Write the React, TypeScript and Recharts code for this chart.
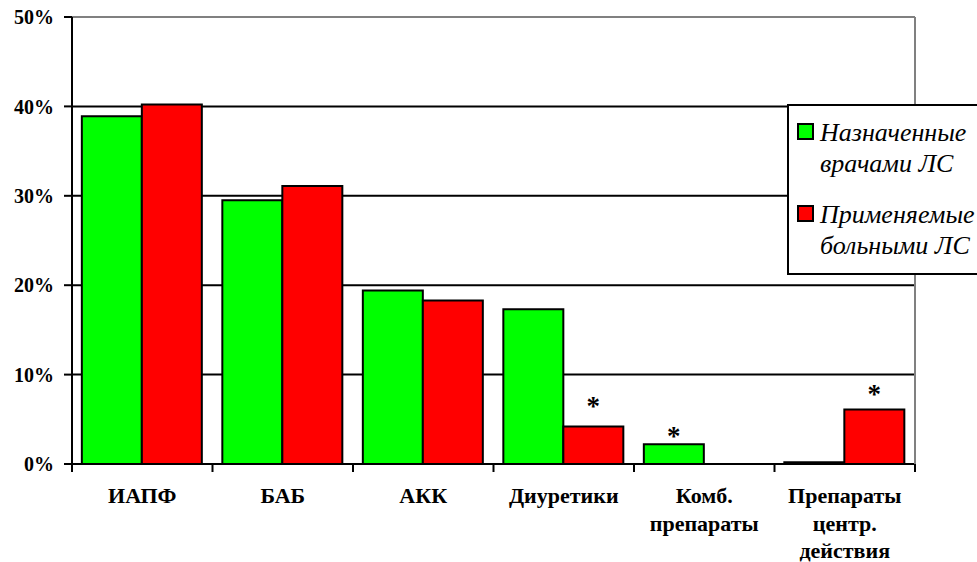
import {
  BarChart,
  Bar,
  XAxis,
  YAxis,
  CartesianGrid,
  ReferenceLine,
  Legend,
  LabelList,
} from "recharts";

const categories = [
  "ИАПФ",
  "БАБ",
  "АКК",
  "Диуретики",
  "Комб.\nпрепараты",
  "Препараты\nцентр.\nдействия",
];
const prescribed = [38.9, 29.5, 19.4, 17.3, 2.2, 0.2];
const used = [40.2, 31.1, 18.3, 4.2, 0, 6.1];
const prescribedMarks = ["", "", "", "", "*", ""];
const usedMarks = ["", "", "", "*", "", "*"];
const yTicks = [0, 10, 20, 30, 40, 50];
const seriesNames = ["Назначенные\nврачами ЛС", "Применяемые\nбольными ЛС"];

const colors = ["#00ff00", "#ff0000"];
const SERIF = '"Liberation Serif", "DejaVu Serif", serif';

const data = categories.map((name, i) => ({
  name,
  prescribed: prescribed[i],
  used: used[i],
  pMark: prescribedMarks[i],
  uMark: usedMarks[i],
}));

// star look per series/index
const starTweaks: Record<string, { lift: number; size: number }> = {
  "used-3": { lift: 11, size: 27 },
  "prescribed-4": { lift: -1, size: 27 },
  "used-5": { lift: 1, size: 36 },
};

const makeStar = (series: string) => (props: any) => {
  const { x, y, width, value, index } = props;
  if (!value) return null;
  const t = starTweaks[`${series}-${index}`] || { lift: 6, size: 27 };
  return (
    <text
      x={Number(x) + Number(width) / 2}
      y={Number(y) - t.lift}
      textAnchor="middle"
      fontFamily={SERIF}
      fontWeight="bold"
      fontSize={t.size}
      fill="#000"
    >
      {value}
    </text>
  );
};

// category label + tick marks on the category boundaries
const CategoryTick = (props: any) => {
  const { x, y, payload, index, visibleTicksCount, width } = props;
  const lines = String(payload.value).split("\n");
  const band = Number(width) / Number(visibleTicksCount);
  const edges = [x - band / 2];
  if (index === visibleTicksCount - 1) edges.push(x + band / 2);
  return (
    <g>
      {edges.map((ex, i) => (
        <line key={i} x1={ex} x2={ex} y1={y} y2={y + 8} stroke="#000" strokeWidth={2} />
      ))}
      <text
        x={x}
        y={y}
        textAnchor="middle"
        fontFamily={SERIF}
        fontWeight="bold"
        fontSize={22}
        fill="#000"
      >
        {lines.map((l, i) => (
          <tspan key={i} x={x} dy={i === 0 ? 39 : 27.5}>
            {l}
          </tspan>
        ))}
      </text>
    </g>
  );
};

const LegendBox = () => (
  <div
    style={{
      boxSizing: "border-box",
      width: 220,
      height: 171,
      border: "2px solid #000",
      background: "#fff",
      position: "relative",
      fontFamily: SERIF,
      fontStyle: "italic",
      fontSize: 26,
      lineHeight: "31px",
      color: "#000",
    }}
  >
    {seriesNames.map((name, i) => (
      <div key={name} style={{ position: "absolute", left: 8, top: 11 + i * 82 }}>
        <span
          style={{
            position: "absolute",
            left: 0,
            top: 6,
            width: 13,
            height: 13,
            border: "2px solid #000",
            background: colors[i],
          }}
        />
        <div style={{ marginLeft: 23, whiteSpace: "pre" }}>{name}</div>
      </div>
    ))}
  </div>
);

export default function App() {
  return (
    <div
      style={{
        position: "absolute",
        left: 0,
        top: 0,
        width: 977,
        height: 562,
        overflow: "hidden",
        background: "#fff",
      }}
    >
      <BarChart
        width={977}
        height={562}
        data={data}
        margin={{ top: 17, right: 61, bottom: 97, left: 0 }}
        barCategoryGap="7%"
        barGap={0}
      >
        <CartesianGrid
          xAxisId="cats"
          vertical={false}
          stroke="#000"
          strokeWidth={2}
        />
        <ReferenceLine xAxisId="cats" y={50} stroke="#808080" strokeWidth={2} />
        <XAxis
          xAxisId="cats"
          dataKey="name"
          height={1}
          interval={0}
          tickLine={false}
          tickSize={0}
          tickMargin={0}
          tick={<CategoryTick />}
          axisLine={{ stroke: "#000", strokeWidth: 2 }}
        />
        <YAxis
          width={72}
          domain={[0, 50]}
          ticks={yTicks}
          interval={0}
          tickFormatter={(v) => `${v}%`}
          tickSize={8}
          tickMargin={10}
          axisLine={{ stroke: "#000", strokeWidth: 2 }}
          tickLine={{ stroke: "#000", strokeWidth: 2 }}
          tick={{ fontFamily: SERIF, fontWeight: "bold", fontSize: 20, fill: "#000" }}
        />
        <YAxis
          yAxisId="r"
          orientation="right"
          width={1}
          domain={[0, 50]}
          tick={false}
          tickLine={false}
          axisLine={{ stroke: "#808080", strokeWidth: 2 }}
        />
        <Legend
          layout="horizontal"
          verticalAlign="middle"
          align="center"
          content={<LegendBox />}
          wrapperStyle={{ left: 787, top: 104, width: 220, height: 171 }}
        />
        <Bar
          xAxisId="cats"
          dataKey="prescribed"
          name="Назначенные врачами ЛС"
          fill={colors[0]}
          stroke="#000"
          strokeWidth={2}
          isAnimationActive={false}
        >
          <LabelList dataKey="pMark" content={makeStar("prescribed")} />
        </Bar>
        <Bar
          xAxisId="cats"
          dataKey="used"
          name="Применяемые больными ЛС"
          fill={colors[1]}
          stroke="#000"
          strokeWidth={2}
          isAnimationActive={false}
        >
          <LabelList dataKey="uMark" content={makeStar("used")} />
        </Bar>
      </BarChart>
    </div>
  );
}
